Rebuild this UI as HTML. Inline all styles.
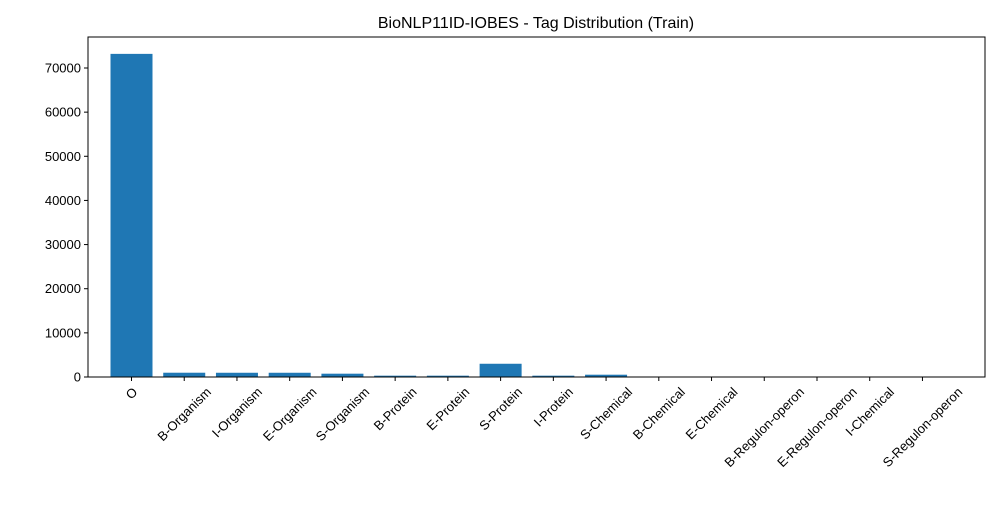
<!DOCTYPE html>
<html><head><meta charset="utf-8"><style>
body{margin:0;background:#fff;}
svg text{font-family:"Liberation Sans",sans-serif;font-size:13px;fill:#000;}
</style></head><body>
<svg id="chart" width="1000" height="500">
<text x="536" y="28" text-anchor="middle" style="font-size:16px">BioNLP11ID-IOBES - Tag Distribution (Train)</text>
<g id="bars"></g><g id="yaxis"></g><g id="xaxis"></g>
<rect x="88" y="37" width="897" height="340" fill="none" stroke="#000" stroke-width="1"/>
</svg>
<script>
const categories=["O","B-Organism","I-Organism","E-Organism","S-Organism","B-Protein","E-Protein","S-Protein","I-Protein","S-Chemical","B-Chemical","E-Chemical","B-Regulon-operon","E-Regulon-operon","I-Chemical","S-Regulon-operon"];
const counts=[73200,970,960,960,750,300,300,3000,300,520,30,30,20,20,15,10];
const yTicks=[0,10000,20000,30000,40000,50000,60000,70000];
const NS="http://www.w3.org/2000/svg";
const x=i=>131.5+52.73*i;
const y=v=>377-v*(377-68)/70000;
function mk(tag,attrs,parent){const e=document.createElementNS(NS,tag);for(const k in attrs)e.setAttribute(k,attrs[k]);parent.appendChild(e);return e;}
const bars=document.getElementById('bars'),ya=document.getElementById('yaxis'),xa=document.getElementById('xaxis');
counts.forEach((v,i)=>{
 const r=mk('rect',{x:x(i)-21,y:y(v),width:42,height:377-y(v),fill:'#1f77b4'},bars);
 
 
 const t=mk('line',{x1:x(i),x2:x(i),y1:377,y2:381,stroke:'#000'},xa);
 
 
 const l=mk('text',{x:0,y:0,'text-anchor':'middle','dominant-baseline':'central'},xa);
 l.textContent=categories[i];
 
 
 const L=l.getComputedTextLength(), h=13;
 const cy=385+(L+h)*0.7071/2;
 l.setAttribute('transform',`translate(${x(i)} ${cy}) rotate(-45)`);
});
yTicks.forEach(v=>{
 const t=mk('line',{x1:84,x2:88,y1:y(v),y2:y(v),stroke:'#000'},ya);
 
 
 const l=mk('text',{x:81,y:y(v)+4.5,'text-anchor':'end'},ya);
 l.textContent=v;
 
 
});
</script>
</body></html>
